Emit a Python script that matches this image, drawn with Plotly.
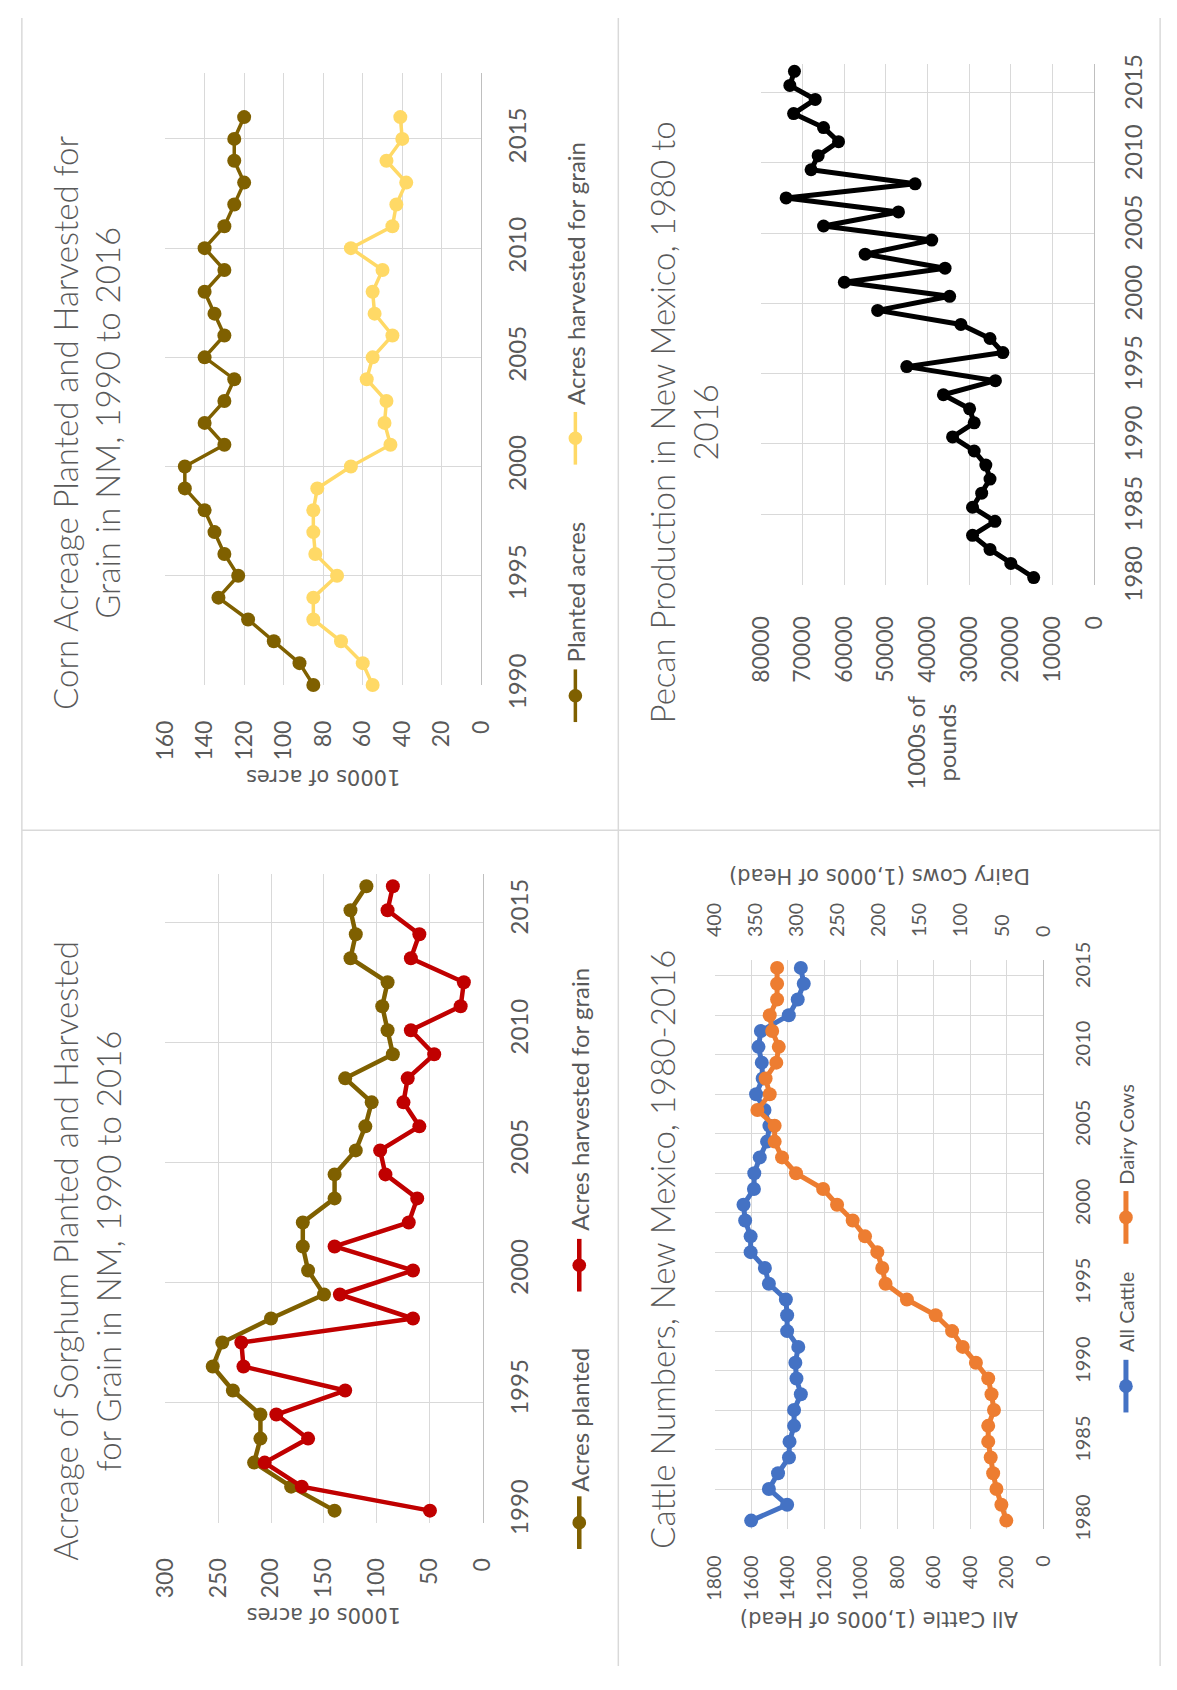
import plotly.graph_objects as go

# ---------------- data ----------------
corn_years = list(range(1990, 2017))
corn_planted = [85, 92, 105, 118, 133, 123, 130, 135, 140, 150, 150, 130, 140, 130,
                125, 140, 130, 135, 140, 130, 140, 130, 125, 120, 125, 125, 120]
corn_harvested = [55, 60, 71, 85, 85, 73, 84, 85, 85, 83, 66, 46, 49, 48,
                  58, 55, 45, 54, 55, 50, 66, 45, 43, 38, 48, 40, 41]

sorghum_years = list(range(1990, 2017))
sorghum_planted = [140, 181, 216, 210, 210, 236, 255, 246, 200, 150, 165, 170, 170, 140,
                   140, 120, 111, 105, 130, 85, 90, 95, 90, 125, 120, 125, 110]
sorghum_harvested = [50, 171, 206, 165, 195, 130, 226, 228, 66, 135, 66, 140, 70, 62,
                     92, 97, 60, 75, 71, 46, 68, 21, 18, 68, 60, 90, 85]

pecan_years = list(range(1980, 2017))
pecan_production = [14500, 20000, 25000, 29200, 23800, 29200, 27000, 25000, 26000, 28800,
                    34000, 28800, 29900, 36200, 23700, 45000, 21900, 25000, 32000, 52000,
                    34700, 60000, 35800, 55000, 39000, 65000, 47000, 74000, 43000, 68000,
                    66300, 61400, 65000, 72200, 67000, 73100, 72000]

cattle_years = list(range(1980, 2016))
all_cattle = [1600, 1403, 1503, 1453, 1393, 1390, 1365, 1365, 1328, 1352, 1358, 1342,
              1403, 1403, 1410, 1503, 1525, 1603, 1603, 1633, 1642, 1585, 1583, 1553,
              1513, 1500, 1527, 1573, 1537, 1542, 1560, 1547, 1394, 1345, 1312, 1328]
dairy_cows = [45, 51, 57, 61, 64, 67, 67, 60, 63, 67, 82, 98, 111, 131, 166, 192, 196,
              202, 217, 232, 251, 268, 301, 318, 327, 327, 348, 333, 338, 325, 322, 330,
              333, 324, 324, 324]

corn_ticks = [1990, 1995, 2000, 2005, 2010, 2015]
sorghum_ticks = [1990, 1995, 2000, 2005, 2010, 2015]
pecan_ticks = [1980, 1985, 1990, 1995, 2000, 2005, 2010, 2015]
cattle_ticks = [1980, 1985, 1990, 1995, 2000, 2005, 2010, 2015]

# ---------------- page geometry (pixels) ----------------
W, H = 1177, 1690
GRID = "#D9D9D9"
AXLINE = "#BFBFBF"
TXT = "#595959"
FONT = "Lato"
BROWN = "#7F6000"
GOLD = "#FFD966"
RED = "#C00000"
BLUE = "#4472C4"
ORANGE = "#ED7D31"


def fx(px):
    return px / W


def fy(py):
    return 1 - py / H


def dom_x(a, b):
    return [fx(a), fx(b)]


def dom_y(top, bottom):
    return [fy(bottom), fy(top)]


fig = go.Figure()


def series(x, y, color, width, xa, ya, name, msize=14):
    fig.add_trace(go.Scatter(
        x=x, y=y, name=name, mode="lines+markers",
        line=dict(color=color, width=width),
        marker=dict(color=color, size=msize),
        xaxis=xa, yaxis=ya, cliponaxis=False, showlegend=False,
        hoverinfo="skip"))


# corn
series(corn_planted, corn_years, BROWN, 3.5, "x", "y", "Planted acres")
series(corn_harvested, corn_years, GOLD, 3.5, "x", "y", "Acres harvested for grain")
# sorghum
series(sorghum_planted, sorghum_years, BROWN, 4.5, "x2", "y2", "Acres planted")
series(sorghum_harvested, sorghum_years, RED, 4.5, "x2", "y2", "Acres harvested for grain")
# pecans
series(pecan_production, pecan_years, "black", 5, "x3", "y3", "Pecans", msize=13)
# cattle
series(all_cattle, cattle_years, BLUE, 5, "x4", "y4", "All Cattle", msize=14)
series(dairy_cows, cattle_years, ORANGE, 5, "x5", "y4", "Dairy Cows", msize=14)


def value_axis(dom, rng, dtick, size, standoff, anchor):
    return dict(domain=dom, range=rng, dtick=dtick, tick0=0, tickmode="linear",
                tickformat="d",
                showgrid=True, gridcolor=GRID, gridwidth=1, zeroline=False,
                showline=False, ticks="", tickangle=-90,
                tickfont=dict(family=FONT, size=size, color=TXT),
                ticklabelstandoff=standoff, anchor=anchor, fixedrange=True)


def year_axis(dom, rng, tickvals, size, standoff, anchor, grid_major,
              minor_start=None, minor_step=None):
    ax = dict(domain=dom, range=rng, tickmode="array", tickvals=tickvals,
              ticktext=[str(t) for t in tickvals], side="right",
              showgrid=grid_major, gridcolor=GRID, gridwidth=1, zeroline=False,
              showline=True, linecolor=AXLINE, linewidth=1, ticks="",
              tickangle=-90, tickfont=dict(family=FONT, size=size, color=TXT),
              ticklabelstandoff=standoff, anchor=anchor, fixedrange=True)
    if minor_start is not None:
        ax["minor"] = dict(tickmode="linear", tick0=minor_start, dtick=minor_step,
                           showgrid=True, gridcolor=GRID, gridwidth=1, ticks="")
    return ax


layout = dict(
    width=W, height=H, autosize=False,
    margin=dict(l=0, r=0, t=0, b=0, pad=0),
    paper_bgcolor="white", plot_bgcolor="white",
    showlegend=False,
    # corn
    xaxis=value_axis(dom_x(152.7, 476.7), [160, 0], 20, 23, 30, "y"),
    yaxis=year_axis(dom_y(56.8, 684), [1990, 2018], corn_ticks, 24, 15, "x", True),
    # sorghum
    xaxis2=value_axis(dom_x(152.7, 478.3), [300, 0], 50, 23, 30, "y2"),
    yaxis2=year_axis(dom_y(878, 1543), [1989.5, 2016.5], sorghum_ticks, 24, 15, "x2",
                     False, 1989.5, 5),
    # pecans
    xaxis3=value_axis(dom_x(763.3, 1104.3), [80000, 0], 10000, 23, 26, "y3"),
    yaxis3=year_axis(dom_y(47.5, 581), [1979.5, 2016.5], pecan_ticks, 24, 18, "x3",
                     False, 1979.5, 5),
    # cattle (all cattle at bottom, dairy cows on top)
    xaxis4=value_axis(dom_x(715.7, 1052.3), [1800, 0], 200, 19.5, 22, "y4"),
    xaxis5=dict(domain=dom_x(715.7, 1052.3), range=[400, 0], dtick=50, tick0=0,
                tickmode="linear", tickformat="d", overlaying="x4", side="top",
                anchor="y4", showgrid=False, zeroline=False, showline=False, ticks="",
                tickangle=-90, tickfont=dict(family=FONT, size=19.5, color=TXT),
                ticklabelstandoff=22, fixedrange=True),
    yaxis4=year_axis(dom_y(966, 1549), [1979.5, 2015.5], cattle_ticks, 20, 22, "x4",
                     False, 1979.5, 2.5),
)
fig.update_layout(**layout)

shapes = []
annotations = []

# panel borders
for x0, y0, x1, y1 in [(6, 0, 6, H), (617, 0, 617, H), (1172, 0, 1172, H), (6, 833, 1172, 833)]:
    shapes.append(dict(type="line", xref="paper", yref="paper",
                       x0=fx(x0), y0=fy(y0), x1=fx(x1), y1=fy(y1),
                       line=dict(color=GRID, width=1.5)))


def title(text, cx, cy, size=33):
    annotations.append(dict(text=text, x=fx(cx), y=fy(cy), xref="paper", yref="paper",
                            xanchor="center", yanchor="middle", textangle=-90,
                            showarrow=False, align="center",
                            font=dict(family=FONT, size=size, color=TXT, weight=300)))


def legend_item(label, cx, y_top, y_bottom, text_start, color, width, size, msize=14):
    shapes.append(dict(type="line", xref="paper", yref="paper",
                       x0=fx(cx), x1=fx(cx), y0=fy(y_top), y1=fy(y_bottom),
                       line=dict(color=color, width=width)))
    cy = (y_top + y_bottom) / 2
    r = msize / 2
    shapes.append(dict(type="circle", xref="paper", yref="paper",
                       x0=fx(cx - r), x1=fx(cx + r), y0=fy(cy + r), y1=fy(cy - r),
                       fillcolor=color, line=dict(color=color, width=0)))
    annotations.append(dict(text=label, x=fx(cx), y=fy(text_start), xref="paper",
                            yref="paper", xanchor="center", yanchor="bottom",
                            textangle=-90, showarrow=False,
                            font=dict(family=FONT, size=size, color=TXT)))


def axis_title(text, cx, cy, angle, size=21, family="DejaVu Sans"):
    annotations.append(dict(text=text, x=fx(cx), y=fy(cy), xref="paper", yref="paper",
                            xanchor="center", yanchor="middle", textangle=angle,
                            showarrow=False, align="center",
                            font=dict(family=family, size=size, color=TXT)))


# corn panel
title("Corn Acreage Planted and Harvested for<br>Grain in NM, 1990 to 2016", 72, 415)
axis_title("1000s of acres", 314.7, 779, 180)
legend_item("Planted acres", 573, 668, 722, 663, BROWN, 3.5, 24)
legend_item("Acres harvested for grain", 573, 404, 458, 399, GOLD, 3.5, 24)

# sorghum panel
title("Acreage of Sorghum Planted and Harvested<br>for Grain in NM, 1990 to 2016", 72, 1264)
axis_title("1000s of acres", 315.5, 1637, 180)
legend_item("Acres planted", 577, 1516, 1570, 1513, BROWN, 4.5, 24)
legend_item("Acres harvested for grain", 577, 1252, 1306, 1246, RED, 4.5, 24)

# pecan panel
title("Pecan Production in New Mexico, 1980 to<br>2016", 684, 415)
axis_title("1000s of<br>pounds", 936.5, 743, -90, size=24, family=FONT)

# cattle panel
title("Cattle Numbers, New Mexico, 1980-2016", 661, 1263)
axis_title("All Cattle (1,000s of Head)", 884, 1642, 180)
axis_title("Dairy Cows (1,000s of Head)", 884, 880, 180)
legend_item("All Cattle", 1137, 1376, 1430, 1370, BLUE, 5, 20, msize=14)
legend_item("Dairy Cows", 1137, 1203, 1257, 1198, ORANGE, 5, 20, msize=14)

fig.update_layout(shapes=shapes, annotations=annotations)

fig.write_html("out.html")
